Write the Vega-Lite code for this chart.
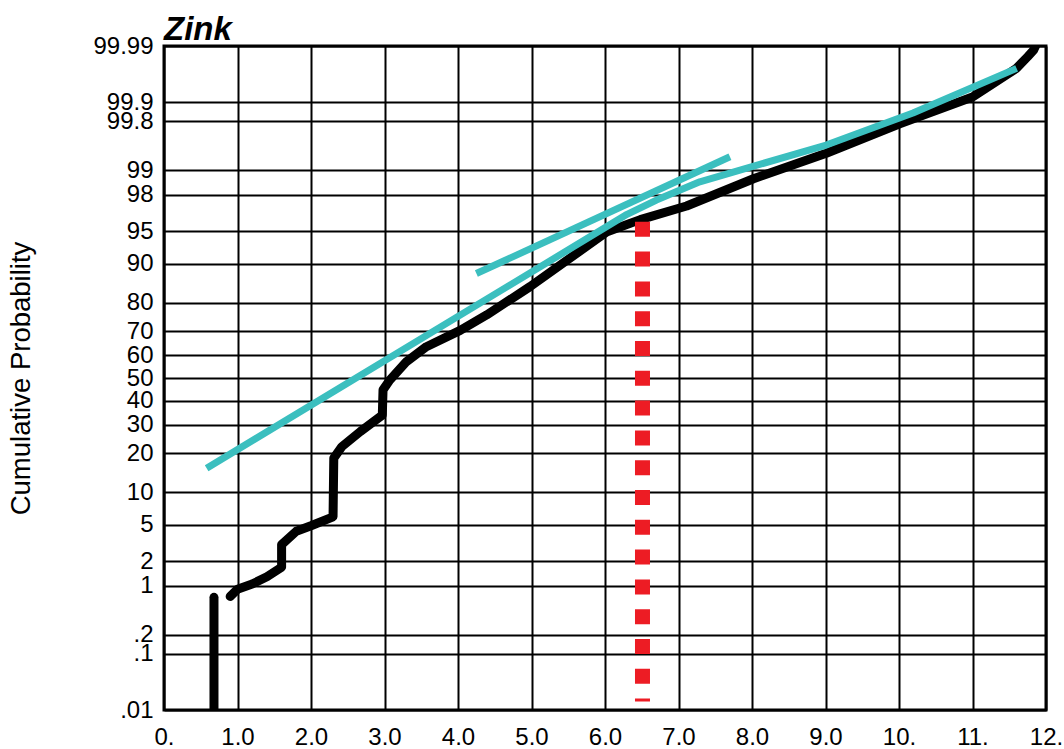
{
  "$schema": "https://vega.github.io/schema/vega-lite/v6.json",
  "width": 882,
  "height": 664,
  "autosize": {"type": "none"},
  "padding": {"left": 164, "top": 46, "right": 18, "bottom": 39},
  "background": "white",
  "title": {"text": "Zink", "anchor": "start", "frame": "group", "font": "Liberation Sans", "fontSize": 33, "fontStyle": "italic", "fontWeight": "bold", "color": "black", "offset": 5, "dy": 18},
  "data": {"values": [
    {"s": "obs", "g": "a", "x": 0.68, "p": 0.01},
    {"s": "obs", "g": "a", "x": 0.68, "p": 0.70},
    {"s": "obs", "g": "b", "x": 0.90, "p": 0.72},
    {"s": "obs", "g": "b", "x": 1.00, "p": 0.90},
    {"s": "obs", "g": "b", "x": 1.20, "p": 1.05},
    {"s": "obs", "g": "b", "x": 1.40, "p": 1.30},
    {"s": "obs", "g": "b", "x": 1.60, "p": 1.70},
    {"s": "obs", "g": "b", "x": 1.60, "p": 3.10},
    {"s": "obs", "g": "b", "x": 1.80, "p": 4.30},
    {"s": "obs", "g": "b", "x": 2.00, "p": 4.90},
    {"s": "obs", "g": "b", "x": 2.30, "p": 6.00},
    {"s": "obs", "g": "b", "x": 2.31, "p": 18.5},
    {"s": "obs", "g": "b", "x": 2.42, "p": 22.1},
    {"s": "obs", "g": "b", "x": 2.67, "p": 27.4},
    {"s": "obs", "g": "b", "x": 2.97, "p": 33.9},
    {"s": "obs", "g": "b", "x": 2.98, "p": 44.7},
    {"s": "obs", "g": "b", "x": 3.07, "p": 49.0},
    {"s": "obs", "g": "b", "x": 3.30, "p": 57.3},
    {"s": "obs", "g": "b", "x": 3.57, "p": 63.7},
    {"s": "obs", "g": "b", "x": 4.03, "p": 70.3},
    {"s": "obs", "g": "b", "x": 4.39, "p": 76.0},
    {"s": "obs", "g": "b", "x": 4.98, "p": 84.7},
    {"s": "obs", "g": "b", "x": 5.50, "p": 90.8},
    {"s": "obs", "g": "b", "x": 6.02, "p": 94.9},
    {"s": "obs", "g": "b", "x": 6.48, "p": 96.2},
    {"s": "obs", "g": "b", "x": 7.11, "p": 97.3},
    {"s": "obs", "g": "b", "x": 8.02, "p": 98.72},
    {"s": "obs", "g": "b", "x": 9.01, "p": 99.41},
    {"s": "obs", "g": "b", "x": 10.01, "p": 99.78},
    {"s": "obs", "g": "b", "x": 11.00, "p": 99.918},
    {"s": "obs", "g": "b", "x": 11.60, "p": 99.974},
    {"s": "obs", "g": "b", "x": 11.75, "p": 99.984},
    {"s": "obs", "g": "b", "x": 11.83, "p": 99.9879},
    {"s": "obs", "g": "b", "x": 11.88, "p": 99.9915},
    {"s": "fit1", "g": "c", "x": 0.58, "p": 15.62},
    {"s": "fit1", "g": "c", "x": 6.30, "p": 96.66},
    {"s": "fit1", "g": "c", "x": 6.70, "p": 97.69},
    {"s": "fit1", "g": "c", "x": 7.29, "p": 98.6},
    {"s": "fit1", "g": "c", "x": 9.01, "p": 99.547},
    {"s": "fit1", "g": "c", "x": 10.19, "p": 99.85},
    {"s": "fit1", "g": "c", "x": 11.60, "p": 99.9738},
    {"s": "fit2", "g": "d", "x": 4.25, "p": 87.9},
    {"s": "fit2", "g": "d", "x": 7.70, "p": 99.34},
    {"s": "cut", "g": "e", "x": 6.51, "p": 95.99},
    {"s": "cut", "g": "e", "x": 6.51, "p": 0.01445}
  ]},
  "transform": [{"calculate": "quantileNormal(datum.p / 100)", "as": "z"}],
  "encoding": {
    "x": {
      "field": "x", "type": "quantitative",
      "scale": {"domain": [0, 12], "nice": false, "zero": false},
      "axis": {
        "values": [0, 1, 2, 3, 4, 5, 6, 7, 8, 9, 10, 11, 12],
        "title": null,
        "labelExpr": "datum.value == 0 ? '0.' : (datum.value >= 10 ? toString(datum.value) + '.' : format(datum.value, '.1f'))",
        "labelPadding": 15,
        "labelFlush": false
      }
    },
    "y": {
      "field": "z", "type": "quantitative",
      "scale": {"domain": [-3.719, 3.719], "nice": false, "zero": false},
      "axis": {
        "values": [-3.719, -3.0902, -2.8782, -2.3263, -2.0537, -1.6449, -1.2816, -0.8416, -0.5244, -0.2533, 0, 0.2533, 0.5244, 0.8416, 1.2816, 1.6449, 2.0537, 2.3263, 2.8782, 3.0902, 3.719],
        "labelExpr": "(round(cumulativeNormal(datum.value) * 10000) / 100) < 1 ? replace(toString(round(cumulativeNormal(datum.value) * 10000) / 100), '0.', '.') : toString(round(cumulativeNormal(datum.value) * 10000) / 100)",
        "title": "Cumulative Probability",
        "titleFontSize": 27.5,
        "titleFontWeight": "normal",
        "titlePadding": 57,
        "labelPadding": 11,
        "labelFlush": false
      }
    }
  },
  "layer": [
    {
      "transform": [{"filter": "datum.s == 'obs'"}],
      "mark": {"type": "line", "color": "black", "strokeWidth": 9, "strokeCap": "round", "strokeJoin": "round", "clip": true},
      "encoding": {"detail": {"field": "g"}, "order": {"field": "p", "type": "quantitative"}}
    },
    {
      "transform": [{"filter": "datum.s == 'fit1' || datum.s == 'fit2'"}],
      "mark": {"type": "line", "color": "#3bbfbf", "strokeWidth": 7, "strokeCap": "butt", "strokeJoin": "round", "clip": true},
      "encoding": {"detail": {"field": "g"}, "order": {"field": "p", "type": "quantitative"}}
    },
    {
      "transform": [{"filter": "datum.s == 'cut'"}],
      "mark": {"type": "line", "color": "#ed1c24", "strokeWidth": 15, "strokeCap": "butt", "strokeDash": [15, 14.8], "clip": true},
      "encoding": {"detail": {"field": "g"}, "order": {"field": "p", "type": "quantitative", "sort": "descending"}}
    }
  ],
  "config": {
    "font": "Liberation Sans",
    "view": {"stroke": "black", "strokeWidth": 3},
    "axis": {
      "grid": true,
      "gridColor": "black",
      "gridWidth": 2,
      "gridOpacity": 1,
      "ticks": false,
      "domain": false,
      "labelFont": "Liberation Sans",
      "labelFontSize": 24,
      "labelColor": "black",
      "labelOverlap": false,
      "labelBound": false,
      "titleFont": "Liberation Sans",
      "titleColor": "black"
    }
  }
}
